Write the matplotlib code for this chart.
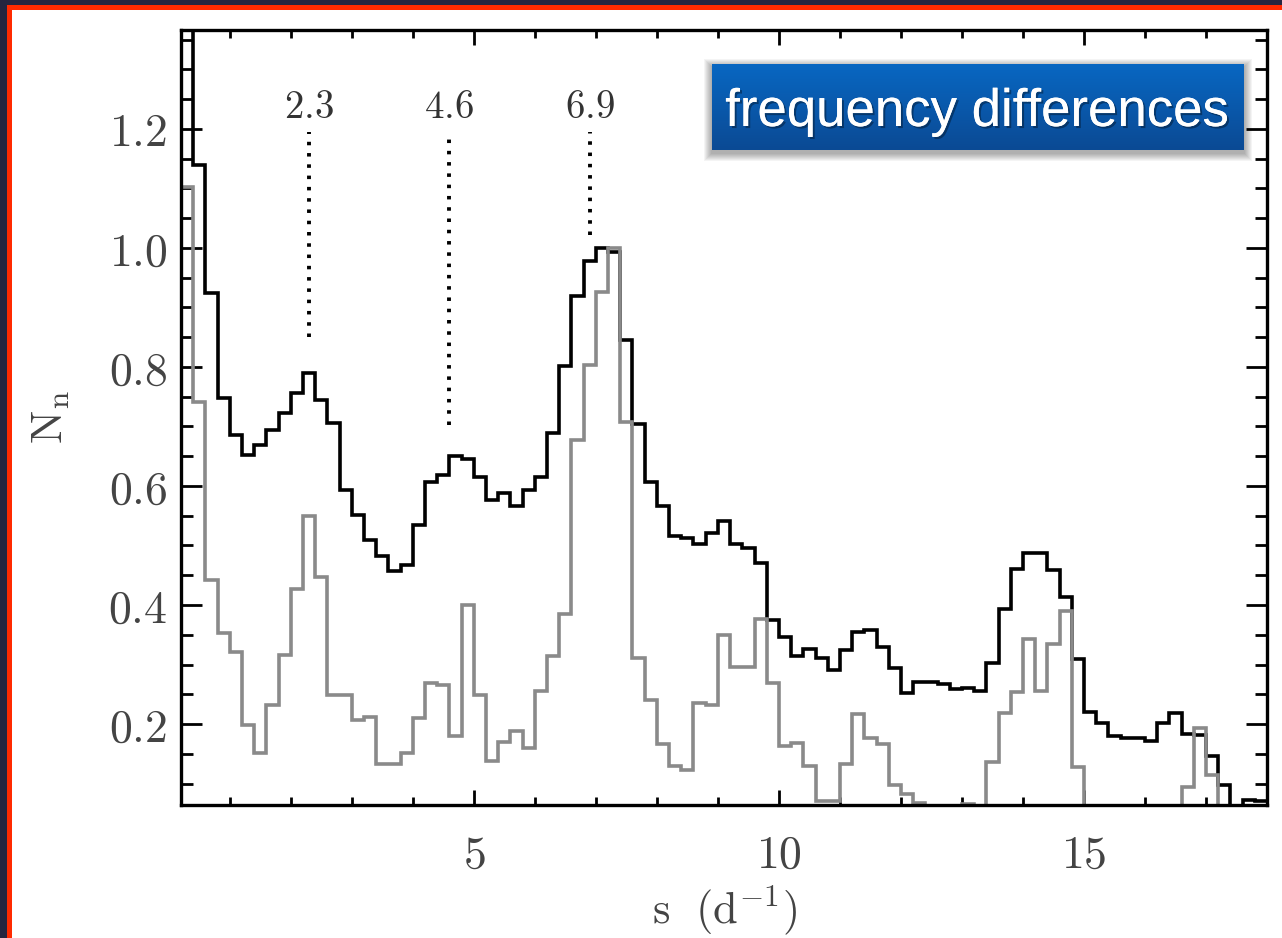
import numpy as np
import matplotlib
matplotlib.use("Agg")
import matplotlib.pyplot as plt
import matplotlib.patheffects as pe
from matplotlib.patches import Rectangle
from matplotlib.colors import LinearSegmentedColormap
from matplotlib.ticker import MultipleLocator, FuncFormatter

plt.rcParams['mathtext.fontset'] = 'cm'

# histogram bins, width 0.2 d^-1
edges = np.round(np.arange(0.0, 18.0001, 0.2), 2)

# black histogram (normalised counts), one value per bin starting at s = 0.0
black = [1.50, 1.45, 1.14, 0.924, 0.748, 0.686, 0.652, 0.669, 0.694, 0.723,
         0.756, 0.790, 0.745, 0.706, 0.593, 0.551, 0.509, 0.482, 0.457, 0.467,
         0.534, 0.607, 0.618, 0.650, 0.645, 0.615, 0.577, 0.588, 0.567, 0.593,
         0.615, 0.689, 0.802, 0.919, 0.978, 1.000, 0.993, 0.845, 0.704, 0.607,
         0.566, 0.516, 0.513, 0.502, 0.521, 0.541, 0.502, 0.496, 0.471, 0.375,
         0.346, 0.314, 0.326, 0.311, 0.291, 0.324, 0.355, 0.358, 0.330, 0.294,
         0.252, 0.271, 0.270, 0.267, 0.259, 0.261, 0.256, 0.302, 0.393, 0.460,
         0.487, 0.487, 0.458, 0.413, 0.309, 0.221, 0.201, 0.180, 0.176, 0.176,
         0.171, 0.201, 0.218, 0.184, 0.182, 0.147, 0.097, 0.030, 0.073, 0.070]

# grey histogram
grey = [1.60, 1.103, 0.741, 0.442, 0.353, 0.321, 0.198, 0.151, 0.232, 0.316,
        0.427, 0.550, 0.447, 0.249, 0.249, 0.207, 0.212, 0.133, 0.133, 0.151,
        0.210, 0.269, 0.266, 0.180, 0.400, 0.249, 0.138, 0.170, 0.188, 0.160,
        0.255, 0.315, 0.385, 0.677, 0.803, 0.926, 1.000, 0.708, 0.311, 0.240,
        0.166, 0.129, 0.123, 0.235, 0.232, 0.350, 0.296, 0.296, 0.376, 0.269,
        0.163, 0.168, 0.129, 0.071, 0.071, 0.133, 0.217, 0.176, 0.166, 0.098,
        0.082, 0.067, 0.0, 0.0, 0.0, 0.066, 0.0, 0.136, 0.218, 0.254,
        0.343, 0.255, 0.334, 0.390, 0.128, 0.0, 0.0, 0.0, 0.0, 0.0,
        0.0, 0.0, 0.0, 0.094, 0.193, 0.115, 0.0, 0.0, 0.0, 0.0]

# marked spacings
marks = [2.3, 4.6, 6.9]
mark_labels = ['2.3', '4.6', '6.9']
mark_bottom = [0.850, 0.703, 1.022]
mark_top = 1.195

W, H = 1282, 938
fig = plt.figure(figsize=(W / 100, H / 100), dpi=100, facecolor='white')

ax = fig.add_axes([181 / W, 1 - 805 / H, (1267 - 181) / W, (805 - 30) / H])
ax.stairs(black, edges, color='black', lw=2.6, baseline=None, zorder=2)
ax.stairs(grey, edges, color='#8a8a8a', lw=2.6, baseline=None, zorder=2.2)

for x, lab, yb in zip(marks, mark_labels, mark_bottom):
    ax.plot([x, x], [yb, mark_top], color='black', lw=2.8,
            linestyle=(0, (0.9, 2.0)), dash_capstyle='butt')
    ax.text(x, 1.237, '$' + lab + '$', ha='center', va='center',
            fontsize=28, color='#333333')

ax.set_xlim(0.2, 18.0)
ax.set_ylim(0.064, 1.366)

ax.xaxis.set_major_locator(MultipleLocator(5))
ax.xaxis.set_minor_locator(MultipleLocator(1))
ax.yaxis.set_major_locator(MultipleLocator(0.2))
ax.yaxis.set_minor_locator(MultipleLocator(0.05))
ax.xaxis.set_major_formatter(FuncFormatter(lambda v, p: '$%d$' % round(v)))
ax.yaxis.set_major_formatter(FuncFormatter(lambda v, p: '$%.1f$' % v))

ax.tick_params(axis='both', which='both', direction='in', top=True, right=True,
               colors='black', labelcolor='#444444', labelsize=33)
ax.tick_params(axis='x', which='major', length=11, width=2.0, pad=20)
ax.tick_params(axis='x', which='minor', length=5.5, width=2.0)
ax.tick_params(axis='y', which='major', length=15, width=2.0, pad=10)
ax.tick_params(axis='y', which='minor', length=8.5, width=2.0)
for sp in ax.spines.values():
    sp.set_linewidth(2.4)

ax.set_xlabel(r'$\mathrm{s\ \ (d^{-1})}$', fontsize=32, color='#444444', labelpad=4)
ax.set_ylabel(r'$\mathrm{N_n}$', fontsize=32, color='#444444', labelpad=26)

# slide frame: dark edge with red line on top and left
frame = [(0, 0, 7, H, '#25253f'),
         (0, 0, W, 5, '#25253f'),
         (7, 5, 5, H - 5, '#ff2a00'),
         (7, 5, W - 7, 5, '#ff2a00')]
for x0, y0, w, h, col in frame:
    fig.add_artist(Rectangle((x0 / W, 1 - (y0 + h) / H), w / W, h / H,
                             transform=fig.transFigure, facecolor=col,
                             edgecolor='none', zorder=10))

# title box with soft shadow and vertical gradient
bx0, by0, bx1, by1 = 712, 64, 1244, 150
for k in range(1, 9):
    fig.add_artist(Rectangle(((bx0 - k) / W, 1 - (by1 + k + 3) / H),
                             (bx1 - bx0 + 2 * k) / W, (by1 - by0 + 2 * k) / H,
                             transform=fig.transFigure, facecolor='black',
                             edgecolor='none', alpha=0.045, zorder=4))
bax = fig.add_axes([bx0 / W, 1 - by1 / H, (bx1 - bx0) / W, (by1 - by0) / H], zorder=5)
grad = np.linspace(0, 1, 100)[:, None]
cmap = LinearSegmentedColormap.from_list('box', ['#0867c2', '#0b4a94'])
bax.imshow(grad, aspect='auto', cmap=cmap, extent=[0, 1, 1, 0])
bax.axis('off')
fig.text((722 + 1232) / 2 / W, 1 - 126 / H, 'frequency differences',
         ha='center', va='baseline', color='white', fontsize=38,
         family='Liberation Sans', zorder=6,
         path_effects=[pe.withSimplePatchShadow(offset=(1.5, -1.5),
                                                shadow_rgbFace='black', alpha=0.35),
                       pe.Normal()])

fig.savefig('out.png', dpi=100, facecolor='white')
